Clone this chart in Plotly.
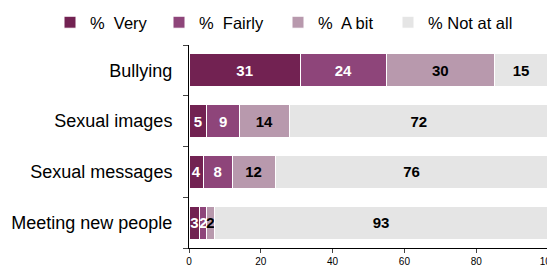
import plotly.graph_objects as go

categories = ["Bullying", "Sexual images", "Sexual messages", "Meeting new people"]
series_names = ["%  Very", "%  Fairly", "%  A bit", "% Not at all"]
very = [31, 5, 4, 3]
fairly = [24, 9, 8, 2]
a_bit = [30, 14, 12, 2]
not_at_all = [15, 72, 76, 93]
x_ticks = [0, 20, 40, 60, 80, 100]

colors = ["#722252", "#8e457a", "#b899ad", "#e5e5e5"]
text_colors = ["white", "white", "black", "black"]
legend_ids = ["legend", "legend2", "legend3", "legend4"]
legend_left_px = [42, 151, 270, 380]

fig = go.Figure()
for name, vals, col, tcol, lg in zip(series_names, [very, fairly, a_bit, not_at_all],
                                     colors, text_colors, legend_ids):
    fig.add_trace(go.Bar(
        y=categories, x=vals, name=name, orientation="h", legend=lg,
        marker=dict(color=col, line=dict(color="white", width=1)),
        text=[str(v) for v in vals], textposition="inside",
        insidetextanchor="middle", constraintext="none",
        textfont=dict(family="Liberation Sans, Arial", size=15, color=tcol, weight="bold"),
        textangle=0,
    ))

ml, mr, mt, mb = 181, 15, 37, 32
plot_h = 272 - mt - mb
plot_w = 555 - ml - mr

legend_layout = {}
for lg, px in zip(legend_ids, legend_left_px):
    legend_layout[lg] = dict(orientation="h", x=(px - ml) / plot_w, y=1 + 40 / plot_h,
                             xref="paper", yref="paper", xanchor="left", yanchor="top",
                             font=dict(size=16.5, color="black"),
                             bgcolor="rgba(0,0,0,0)", itemclick=False)

fig.update_layout(
    barmode="stack",
    width=555, height=272,
    margin=dict(l=ml, r=mr, t=mt, b=mb, autoexpand=False),
    plot_bgcolor="white", paper_bgcolor="white",
    bargap=0.35,
    font=dict(family="Liberation Sans, Arial", color="black"),
    showlegend=True,
    **legend_layout,
)
fig.update_xaxes(range=[0, 100], tickvals=x_ticks, ticks="outside", ticklen=4,
                 showline=True, linecolor="black", linewidth=1, showgrid=False,
                 zeroline=False, tickfont=dict(size=10, color="black"), fixedrange=True)
fig.update_yaxes(categoryorder="array", categoryarray=categories[::-1],
                 ticks="outside", ticklen=5, tickson="boundaries",
                 showline=True, linecolor="black", linewidth=1, showgrid=False,
                 tickfont=dict(size=18, color="black"), ticklabelstandoff=12, fixedrange=True)

fig.write_html("out.html")
